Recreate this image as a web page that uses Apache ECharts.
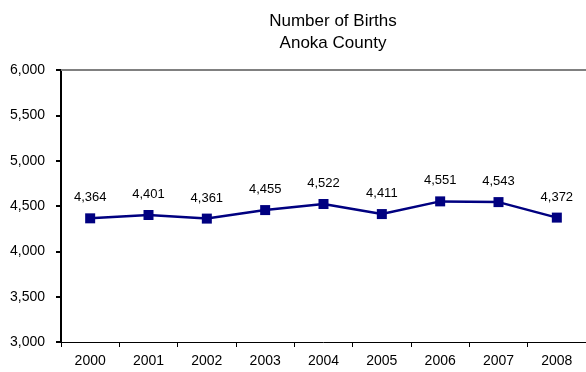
<!DOCTYPE html>
<html>
<head>
<meta charset="utf-8">
<script src="https://cdn.jsdelivr.net/npm/echarts@6/dist/echarts.min.js"></script>
<style>
  html, body { margin: 0; padding: 0; background: #fff; }
  #chart { width: 586px; height: 372px; }
</style>
</head>
<body>
<div id="chart"></div>
<script>
// Annual births, Anoka County
const years = ['2000', '2001', '2002', '2003', '2004', '2005', '2006', '2007', '2008'];
const births = [4364, 4401, 4361, 4455, 4522, 4411, 4551, 4543, 4372];
const yTicks = [3000, 3500, 4000, 4500, 5000, 5500, 6000];

const fmt = v => v.toLocaleString('en-US');
const font = 'Liberation Sans, Arial, sans-serif';

const chart = echarts.init(document.getElementById('chart'), null, { renderer: 'canvas' });
chart.setOption({
  animation: false,
  backgroundColor: '#fff',
  title: {
    text: 'Number of Births\nAnoka County',
    left: 328, textAlign: 'center', top: 5,
    textStyle: { fontFamily: font, fontSize: 17, fontWeight: 'normal', color: '#000', lineHeight: 22 }
  },
  grid: { left: 61, right: -2, top: 70, bottom: 30, containLabel: false },
  xAxis: [{
    type: 'category',
    data: years,
    boundaryGap: true,
    axisLine: { lineStyle: { color: '#000', width: 1 } },
    axisTick: { show: true, inside: false, length: 5, alignWithLabel: false, lineStyle: { color: '#000' } },
    axisLabel: { fontFamily: font, fontSize: 14, color: '#000', margin: 12 },
    splitLine: { show: false }
  }, {
    // upper edge of the plot area
    type: 'category',
    data: years,
    position: 'top',
    axisLine: { lineStyle: { color: '#808080', width: 2 } },
    axisTick: { show: false },
    axisLabel: { show: false }
  }],
  yAxis: {
    type: 'value',
    min: yTicks[0], max: yTicks[yTicks.length - 1], interval: 500,
    axisLine: { show: true, lineStyle: { color: '#000', width: 2 } },
    axisTick: { show: true, length: 5, lineStyle: { color: '#000', width: 2 } },
    axisLabel: { fontFamily: font, fontSize: 14, color: '#000', margin: 16, formatter: fmt },
    splitLine: { show: false }
  },
  series: [{
    type: 'line',
    data: births,
    symbol: 'rect',
    symbolSize: 10,
    lineStyle: { color: '#000080', width: 2.5 },
    itemStyle: { color: '#000080' },
    label: {
      show: true, position: 'top', distance: 9,
      fontFamily: font, fontSize: 13, color: '#000',
      formatter: p => fmt(p.value)
    }
  }]
});
</script>
</body>
</html>
